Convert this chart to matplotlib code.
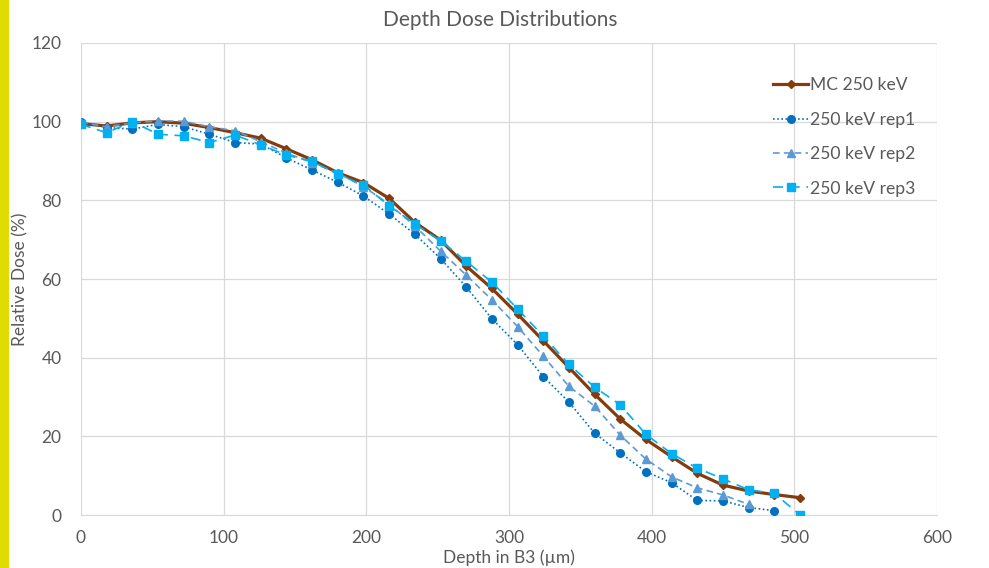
import matplotlib
matplotlib.use("Agg")
import matplotlib.pyplot as plt
from matplotlib.patches import Rectangle

plt.rcParams["font.family"] = ["Lato", "DejaVu Sans"]

# depth grid (um) shared by all series
depth = [0, 18, 36, 54, 72, 90, 108, 126, 144, 162, 180, 198, 216, 234, 252,
         270, 288, 306, 324, 342, 360, 378, 396, 414, 432, 450, 468, 486, 504]

mc_250 = [99.5, 98.9, 99.7, 100.0, 99.6, 98.5, 97.2, 95.8, 93.1, 90.3, 87.0,
          84.5, 80.5, 74.4, 69.9, 63.3, 57.6, 51.1, 44.3, 37.5, 30.7, 24.4,
          19.2, 14.8, 10.6, 7.6, 6.1, 5.2, 4.4]
rep1 = [100.0, 98.5, 98.1, 99.3, 98.7, 96.8, 94.7, 94.3, 90.8, 87.7, 84.6,
        81.1, 76.5, 71.4, 65.2, 58.0, 49.9, 43.3, 35.2, 28.7, 20.8, 15.8,
        11.0, 8.2, 3.7, 3.6, 1.9, 1.1]
rep2 = [99.8, 98.7, 99.7, 100.2, 100.1, 98.7, 97.7, 94.9, 92.0, 89.6, 86.9,
        83.5, 79.0, 73.5, 67.1, 61.0, 54.7, 47.9, 40.4, 32.7, 27.7, 20.3,
        14.2, 9.7, 6.9, 5.1, 2.7]
rep3 = [99.3, 97.2, 100.0, 96.8, 96.4, 94.7, 96.6, 94.1, 91.5, 89.9, 86.6,
        83.9, 78.6, 74.0, 69.7, 64.5, 59.2, 52.4, 45.5, 38.3, 32.5, 28.0,
        20.5, 15.6, 11.9, 9.2, 6.4, 5.5, 0.0]

TXT = "#595959"
GRID = "#D9D9D9"

fig = plt.figure(figsize=(9.89, 5.68), dpi=100)
ax = fig.add_axes([0.0819, 0.0933, 0.8655, 0.8310])

# yellow strip along the left edge
fig.patches.append(Rectangle((0, 0), 9 / 989, 1, transform=fig.transFigure,
                             facecolor="#DEDC00", edgecolor="none"))

ax.plot(depth, mc_250, color="#843C0C", lw=2.3, marker="D", ms=4.5,
        label="MC 250 keV", zorder=3)
ax.plot(depth[:len(rep1)], rep1, color="#0070C0", lw=1.2,
        linestyle=(0, (1, 1.5)), marker="o", ms=5.5, label="250 keV rep1", zorder=4)
ax.plot(depth[:len(rep2)], rep2, color="#5B9BD5", lw=1.2,
        linestyle=(0, (4, 2.5)), marker="^", ms=5.5, label="250 keV rep2", zorder=5)
ax.plot(depth[:len(rep3)], rep3, color="#00B0F0", lw=1.2,
        linestyle=(0, (6, 4)), marker="s", ms=5.5, label="250 keV rep3", zorder=6)

ax.set_xlim(0, 600)
ax.set_ylim(0, 120)
ax.set_xticks(range(0, 601, 100))
ax.set_yticks(range(0, 121, 20))
ax.grid(True, color=GRID, lw=0.9)
ax.set_axisbelow(True)
for side in ["top", "right", "left"]:
    ax.spines[side].set_visible(False)
ax.spines["bottom"].set_color(GRID)
ax.tick_params(length=0, labelsize=12.5, labelcolor=TXT)
ax.tick_params(axis="y", pad=14)
ax.tick_params(axis="x", pad=11)

ax.set_xlabel("Depth in B3 (\u00b5m)", fontsize=12.5, color=TXT)
ax.xaxis.set_label_coords(0.5, -34 / 472)
ax.set_ylabel("Relative Dose (%)", fontsize=12.5, color=TXT)
ax.yaxis.set_label_coords(-53 / 856, 0.5)
fig.text(500 / 989, 1 - 20 / 568, "Depth Dose Distributions", fontsize=15,
         color=TXT, ha="center", va="center")

leg = ax.legend(loc="upper left", bbox_to_anchor=(0.809, 0.927), frameon=False,
                fontsize=12.6, labelcolor=TXT, handlelength=1.95,
                handletextpad=0.15, labelspacing=1.05, borderpad=0,
                borderaxespad=0)

fig.savefig("out.png", dpi=100)
